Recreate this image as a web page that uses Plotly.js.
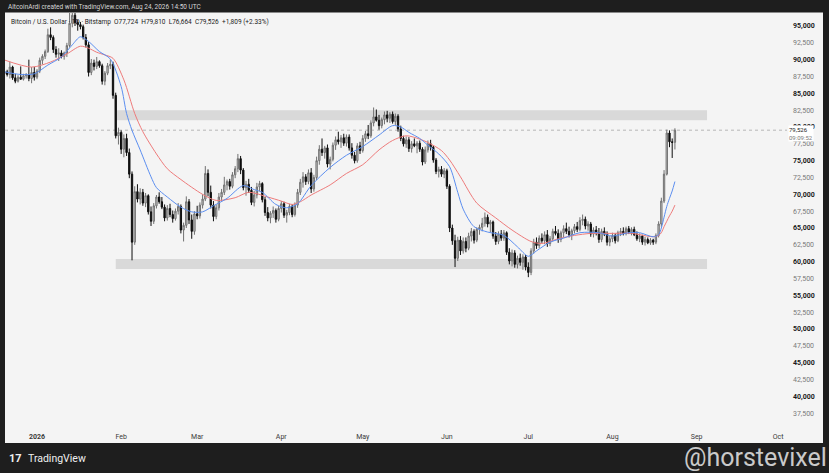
<!DOCTYPE html>
<html><head><meta charset="utf-8">
<script src="https://cdn.plot.ly/plotly-3.0.1.min.js"></script>
<style>html,body{margin:0;padding:0;background:#1e1e1e;overflow:hidden}#chart{width:829px;height:473px}</style>
</head><body><div id="chart"></div>
<script>
// ---- DATA (daily candles from 2025-12-20 to 2026-08-24) ----
const firstDay = '2025-12-20';
const opens = [
 87900,88200,87800,88900,87300,86800,87400,87100,87600,87800,87200,88100,
 87400,88300,89900,90500,91200,93700,93300,91500,90800,91000,90500,91000,92100,95400,96600,95500,95200,94900,93300,92200,88100,89500,89000,89700,89100,86800,88000,89100,89300,84700,78700,
 79200,76700,78300,76200,73000,62900,70400,69300,70300,68700,69800,67400,66000,68300,69600,68900,68100,66500,67900,67000,66400,67500,68200,64700,65400,68900,66200,64500,
 67100,66800,68400,69300,73100,70300,68400,66700,68000,69600,70300,71400,71900,71200,72900,73800,75300,73600,71000,71500,70600,68800,69900,71100,71600,69200,67300,66500,67200,67600,66300,
 67900,68600,66900,67300,68200,67000,68400,70300,71800,72600,71900,73200,70800,72500,75000,76700,76200,76900,74500,75200,77300,78100,77800,78400,77600,78500,76900,75800,75000,77200,
 76500,78300,79000,78700,80600,81500,81000,80200,81100,81800,81300,81900,80800,81600,79700,78300,77500,78100,76800,77500,77200,77600,76700,74800,76600,77500,77000,75100,73400,73700,73000,
 73500,71200,65000,63100,60500,63200,61600,63000,62000,63800,64500,63200,64800,65100,65700,66600,65600,65900,63800,63000,64100,63500,64300,61400,60100,61300,59600,60500,59900,60700,
 59200,58400,61600,62900,62400,63500,63100,64000,62700,63400,64500,64200,63300,64300,64900,64500,64000,64600,65200,64800,66100,66300,65300,65600,64100,64700,64300,63300,64500,64100,62900,
 63400,63900,63100,64300,64500,64200,64900,64400,64800,64000,63400,63800,62900,63300,62800,63200,62900,63900,65600,69000,73000,79100,77800,77724
];
const highs = [
 88600,88500,89700,89100,87900,87700,89000,87900,88000,90000,88900,88900,
 88600,90300,90800,91500,94600,94800,93600,92000,91700,91400,91200,92500,97000,97300,97200,95900,95600,95200,93800,92600,90100,90000,90400,89900,89400,88300,89500,90000,89700,85100,79900,
 79500,78900,79000,76800,73400,71200,71500,70900,70800,70200,70000,68200,68700,69900,70300,69600,68500,68400,68600,67600,67900,68700,68500,65800,69700,69300,67000,67500,
 68300,68800,70000,74200,73700,71300,69000,68500,70200,70800,72600,72200,72300,73300,74200,76000,75700,73900,72000,72300,71100,70500,71700,72000,71800,69600,68100,67500,68200,67900,68300,
 69000,68900,67700,68600,68500,68800,70800,72300,73300,73000,73700,73900,72900,75600,77300,78300,77200,77400,75600,77700,78600,79300,78800,79000,78900,78900,77600,76300,77600,77800,
 78800,79400,80300,81000,82900,82600,81800,81400,82300,82400,82200,82300,82000,81900,80200,78700,78600,78500,77900,78300,77900,78000,77000,77100,78000,78100,77300,75400,74100,74200,73900,
 73800,71500,65500,64000,63700,63800,63600,63600,64300,65000,64800,65100,65500,66500,67300,67000,66200,66100,64400,64500,64700,64700,64500,62000,61800,61700,60900,61200,61100,61000,
 59900,62000,63400,63600,63900,64200,64500,64700,63800,64900,65300,64800,64600,65400,65800,65200,64900,65600,65900,66600,67000,66700,66000,65900,65100,65300,65000,64900,65100,64500,63800,
 64300,64200,64600,65000,65100,65200,65300,65100,65200,64500,64200,64000,63700,63600,63500,63400,64200,66000,69500,73600,79600,79500,78300,79810
];
const lows = [
 87400,87500,87200,87000,86500,86600,87000,86900,87200,86800,86500,86900,
 87100,88000,89300,90100,91000,92900,91000,90300,89800,90200,90000,90400,91800,94800,95000,94300,94500,93000,91800,87500,87700,88400,88600,88800,86300,86200,87700,88600,84200,78300,77400,
 76000,75500,75700,72400,60200,62500,68800,68500,68300,68100,67000,65300,65600,67900,68600,67800,66000,66100,66600,65800,66100,67000,64200,63000,65000,65600,63400,64000,
 66300,66400,67900,69000,69700,67900,66000,66300,67600,69000,69900,70600,70700,70900,72400,73300,73000,70600,69800,70200,68400,68200,69400,70500,68800,66800,66000,65700,66500,65800,66000,
 67300,66500,65800,66900,66600,66700,68000,69900,71000,71400,71500,70200,70400,72100,74400,75700,75300,74000,73700,74900,76600,77400,76900,77200,77100,76500,75300,74600,74700,76000,
 76200,77800,78200,78400,80100,80800,79600,79800,80400,80700,80600,80500,80300,79300,77900,77100,76900,76300,76200,77000,76100,76300,74300,74500,76200,76500,74700,73000,72500,72600,72400,
 70800,64400,62500,59200,60100,61000,61200,61400,61700,63000,62700,62900,64000,64500,65200,65100,64400,63400,62500,62600,63100,63100,61000,59600,59300,59100,59000,59400,58800,58700,
 57700,58000,61200,61900,62000,62800,62600,62200,62300,63000,63900,62800,62900,63600,64100,63600,63200,64200,64400,64500,65400,64800,64600,63700,63600,63900,62800,62900,63800,62400,62300,
 62900,62700,62900,63800,63900,63900,64100,63900,63800,63100,62900,62500,62400,62600,62500,62500,62600,63600,65200,68700,72800,77000,75400,76664
];
const closes = [
 88200,87800,88900,87300,86800,87400,87100,87600,87800,87200,88100,87400,
 88300,89900,90500,91200,93700,93300,91500,90800,91000,90500,91000,92100,95400,96600,95500,95200,94900,93300,92200,88100,89500,89000,89700,89100,86800,88000,89100,89300,84700,78700,79200,
 76700,78300,76200,73000,62900,70400,69300,70300,68700,69800,67400,66000,68300,69600,68900,68100,66500,67900,67000,66400,67500,68200,64700,65400,68900,66200,64500,67100,
 66800,68400,69300,73100,70300,68400,66700,68000,69600,70300,71400,71900,71200,72900,73800,75300,73600,71000,71500,70600,68800,69900,71100,71600,69200,67300,66500,67200,67600,66300,67900,
 68600,66900,67300,68200,67000,68400,70300,71800,72600,71900,73200,70800,72500,75000,76700,76200,76900,74500,75200,77300,78100,77800,78400,77600,78500,76900,75800,75000,77200,76500,
 78300,79000,78700,80600,81500,81000,80200,81100,81800,81300,81900,80800,81600,79700,78300,77500,78100,76800,77500,77200,77600,76700,74800,76600,77500,77000,75100,73400,73700,73000,73500,
 71200,65000,63100,60500,63200,61600,63000,62000,63800,64500,63200,64800,65100,65700,66600,65600,65900,63800,63000,64100,63500,64300,61400,60100,61300,59600,60500,59900,60700,59200,
 58400,61600,62900,62400,63500,63100,64000,62700,63400,64500,64200,63300,64300,64900,64500,64000,64600,65200,64800,66100,66300,65300,65600,64100,64700,64300,63300,64500,64100,62900,63400,
 63900,63100,64300,64500,64200,64900,64400,64800,64000,63400,63800,62900,63300,62800,63200,62900,63900,65600,69000,73000,79100,77800,77717,79526
];

// fast moving average (blue)
const fastMaDates = ['2025-12-20','2025-12-26','2025-12-31','2026-01-05','2026-01-10','2026-01-14','2026-01-17','2026-01-20','2026-01-24','2026-01-28','2026-02-01','2026-02-03','2026-02-05','2026-02-08','2026-02-12','2026-02-14','2026-02-18','2026-02-23','2026-02-27','2026-03-03','2026-03-07','2026-03-12','2026-03-18','2026-03-22','2026-03-25','2026-03-30','2026-04-03','2026-04-07','2026-04-12','2026-04-19','2026-04-25','2026-05-01','2026-05-07','2026-05-12','2026-05-15','2026-05-18','2026-05-22','2026-05-25','2026-05-29','2026-06-02','2026-06-05','2026-06-07','2026-06-11','2026-06-16','2026-06-22','2026-06-27','2026-07-01','2026-07-04','2026-07-09','2026-07-14','2026-07-20','2026-07-27','2026-08-01','2026-08-07','2026-08-11','2026-08-16','2026-08-18','2026-08-19','2026-08-20','2026-08-21','2026-08-22','2026-08-23','2026-08-24'];
const fastMaValues = [88200,87800,87900,89200,90400,92200,93400,92700,91200,90100,86000,82000,79500,76600,72600,71000,69600,68100,67400,67400,68300,69400,71300,70700,70300,68500,68000,68600,71300,74000,75800,77100,78800,80200,80000,79200,78300,77300,76000,74100,70300,67800,65200,64400,63900,62200,60800,61600,62900,63500,64300,64300,63800,64300,64300,63700,64000,65000,66600,68200,69400,70500,71900];

// slow moving average (red)
const slowMaDates = ['2025-12-20','2025-12-30','2026-01-06','2026-01-12','2026-01-17','2026-01-20','2026-01-23','2026-01-26','2026-01-29','2026-02-02','2026-02-06','2026-02-09','2026-02-14','2026-02-18','2026-02-23','2026-03-03','2026-03-08','2026-03-15','2026-03-20','2026-03-27','2026-04-01','2026-04-05','2026-04-08','2026-04-12','2026-04-19','2026-04-25','2026-05-01','2026-05-07','2026-05-12','2026-05-17','2026-05-22','2026-05-25','2026-05-30','2026-06-02','2026-06-06','2026-06-12','2026-06-19','2026-06-25','2026-07-02','2026-07-06','2026-07-12','2026-07-18','2026-07-24','2026-07-31','2026-08-08','2026-08-16','2026-08-18','2026-08-19','2026-08-20','2026-08-21','2026-08-22','2026-08-23','2026-08-24'];
const slowMaValues = [89950,88900,89650,90850,92000,91700,91100,90700,90200,87000,82000,79300,76000,73800,72200,70000,69100,69500,70300,69600,69000,68500,68900,69900,71400,73100,74400,76600,78000,78700,78200,77700,76500,75100,72600,68700,66500,64700,63000,62700,63400,63900,64200,64200,64200,63700,63900,64300,65200,66000,66800,67500,68400];

// horizontal supply / demand zones
const zoneDates = ['2026-01-30', '2026-09-04 20:00'];
const upperZone = [81000, 82500];
const lowerZone = [58900, 60400];

// axis ticks
const monthTickDates = ['2026-01-01','2026-02-01','2026-03-01','2026-04-01','2026-05-01','2026-06-01','2026-07-01','2026-08-01','2026-09-01','2026-10-01'];
const monthTickLabels = ['2026','Feb','Mar','Apr','May','Jun','Jul','Aug','Sep','Oct'];
const priceTicks = [37500,40000,42500,45000,47500,50000,52500,55000,57500,60000,62500,65000,67500,70000,72500,75000,77500,80000,82500,85000,87500,90000,92500,95000];
const priceTickLabels = ['37,500','40,000','42,500','45,000','47,500','50,000','52,500','55,000','57,500','60,000','62,500','65,000','67,500','70,000','72,500','75,000','77,500','80,000','82,500','85,000','87,500','90,000','92,500','95,000'];

const headerText = 'AltcoinArdi created with TradingView.com, Aug 24, 2026 14:50 UTC';
const symbolText = 'Bitcoin / U.S. Dollar \u00b7 1D \u00b7 Bitstamp';
const countdownText = '09:09:52';
const watermarkText = '@horstevixel';

// ---- BUILD ----
const t0 = Date.parse(firstDay + 'T00:00:00Z');
const dates = closes.map((_, i) => new Date(t0 + i * 86400000).toISOString().slice(0, 10));

const n = closes.length;
const fmt = v => Math.round(v).toLocaleString('en-US');
const lastC = closes[n-1], prevC = closes[n-2];
const chg = lastC - prevC;
const pct = chg / prevC * 100;
const sp = '\u00a0\u00a0';
const ohlcText = symbolText + sp + 'O' + fmt(opens[n-1]) + sp + 'H' + fmt(highs[n-1]) + sp + 'L' + fmt(lows[n-1]) + sp + 'C' + fmt(lastC) + sp + (chg>=0?'+':'') + fmt(chg) + ' (' + (chg>=0?'+':'') + pct.toFixed(2) + '%)';

const W = 829, H = 473, ML = 5, MR = 42, MT = 13, MB = 45;
const PW = W - ML - MR, PH = H - MT - MB;
const px = x => (x - ML) / PW;
const py = y => (H - MB - y) / PH;

const traces = [
  {type:'candlestick', x:dates, open:opens, high:highs, low:lows, close:closes,
   increasing:{line:{color:'#707070', width:1}, fillcolor:'#d2d2d2'},
   decreasing:{line:{color:'#0e0e0e', width:1}, fillcolor:'#0e0e0e'},
   whiskerwidth:0, hoverinfo:'skip', showlegend:false},
  {type:'scatter', mode:'lines', x:slowMaDates, y:slowMaValues, line:{color:'#ee7b7b', width:1, shape:'spline', smoothing:0.8}, hoverinfo:'skip'},
  {type:'scatter', mode:'lines', x:fastMaDates, y:fastMaValues, line:{color:'#5b8ef0', width:1, shape:'spline', smoothing:0.8}, hoverinfo:'skip'}
];

const font = 'Roboto, "Liberation Sans", sans-serif';
const layout = {
  width: W, height: H,
  margin: {l:ML, r:MR, t:MT, b:MB, pad:0},
  paper_bgcolor: '#1e1e1e',
  plot_bgcolor: '#f4f4f4',
  showlegend: false,
  hovermode: false,
  font: {family: font},
  xaxis: {
    type:'date', range:['2025-12-20 05:00','2026-10-04 07:00'],
    rangeslider:{visible:false}, showgrid:false, zeroline:false, showline:false,
    tickmode:'array', tickvals: monthTickDates,
    ticktext: monthTickLabels.map((t,i) => i===0 ? '<b>'+t+'</b>' : t),
    tickfont:{family:font, size:7, color:'#3a3a3a'}, ticks:'', ticklabelstandoff:3, fixedrange:true
  },
  yaxis: {
    side:'right', range:[35300, 96930], showgrid:false, zeroline:false, showline:false,
    tickmode:'array', tickvals: priceTicks,
    ticktext: priceTickLabels.map((t,i) => priceTicks[i] % 5000 === 0 ? '<b>'+t+'</b>' : '<span style="color:#7a7a7a">'+t+'</span>'),
    tickfont:{family:font, size:7, color:'#1a1a1a'}, ticks:'', ticklabelstandoff:5, fixedrange:true
  },
  shapes: [
    {type:'rect', xref:'paper', yref:'paper', x0:0, x1:px(823), y0:py(443), y1:py(12.5), fillcolor:'#f4f4f4', line:{width:0}, layer:'below'},
    {type:'rect', xref:'x', yref:'y', x0:zoneDates[0], x1:zoneDates[1], y0:upperZone[0], y1:upperZone[1], fillcolor:'#d9d9d9', line:{width:0}, layer:'below'},
    {type:'rect', xref:'x', yref:'y', x0:zoneDates[0], x1:zoneDates[1], y0:lowerZone[0], y1:lowerZone[1], fillcolor:'#d9d9d9', line:{width:0}, layer:'below'},
    {type:'line', xref:'paper', yref:'y', x0:0, x1:1, y0:lastC, y1:lastC, line:{color:'#a8a8a8', width:0.8, dash:'dot'}, layer:'below'}
  ],
  annotations: [
    {xref:'paper', yref:'paper', x:px(6), y:py(6.5), xanchor:'left', yanchor:'middle', showarrow:false,
     text: headerText, font:{family:font, size:6.5, color:'#d6d6d6'}},
    {xref:'paper', yref:'paper', x:px(9), y:py(22), xanchor:'left', yanchor:'middle', showarrow:false,
     text: ohlcText, font:{family:font, size:6.5, color:'#1c1c1c'}},
    {xref:'paper', yref:'y', x:1, y:lastC, xanchor:'left', yanchor:'top', xshift:1, yshift:5.5, showarrow:false,
     align:'left', bgcolor:'#ffffff', borderpad:0,
     text: fmt(lastC) + '<br><span style="color:#7a7a7a">' + countdownText + '</span>',
     font:{family:font, size:6, color:'#1a1a1a'}},
    {xref:'paper', yref:'paper', x:px(7), y:py(458), xanchor:'left', yanchor:'middle', showarrow:false,
     text:'<b>17</b>', font:{family:font, size:11, color:'#f0f0f0'}},
    {xref:'paper', yref:'paper', x:px(26), y:py(458), xanchor:'left', yanchor:'middle', showarrow:false,
     text:'TradingView', font:{family:font, size:10.5, color:'#f0f0f0'}},
    {xref:'paper', yref:'paper', x:px(829), y:py(457), xanchor:'right', yanchor:'middle', showarrow:false,
     text: watermarkText, font:{family:font, size:25, color:'rgba(235,235,235,0.85)'}}
  ]
};

Plotly.newPlot('chart', traces, layout, {staticPlot:true, displayModeBar:false});
</script>
</body></html>
